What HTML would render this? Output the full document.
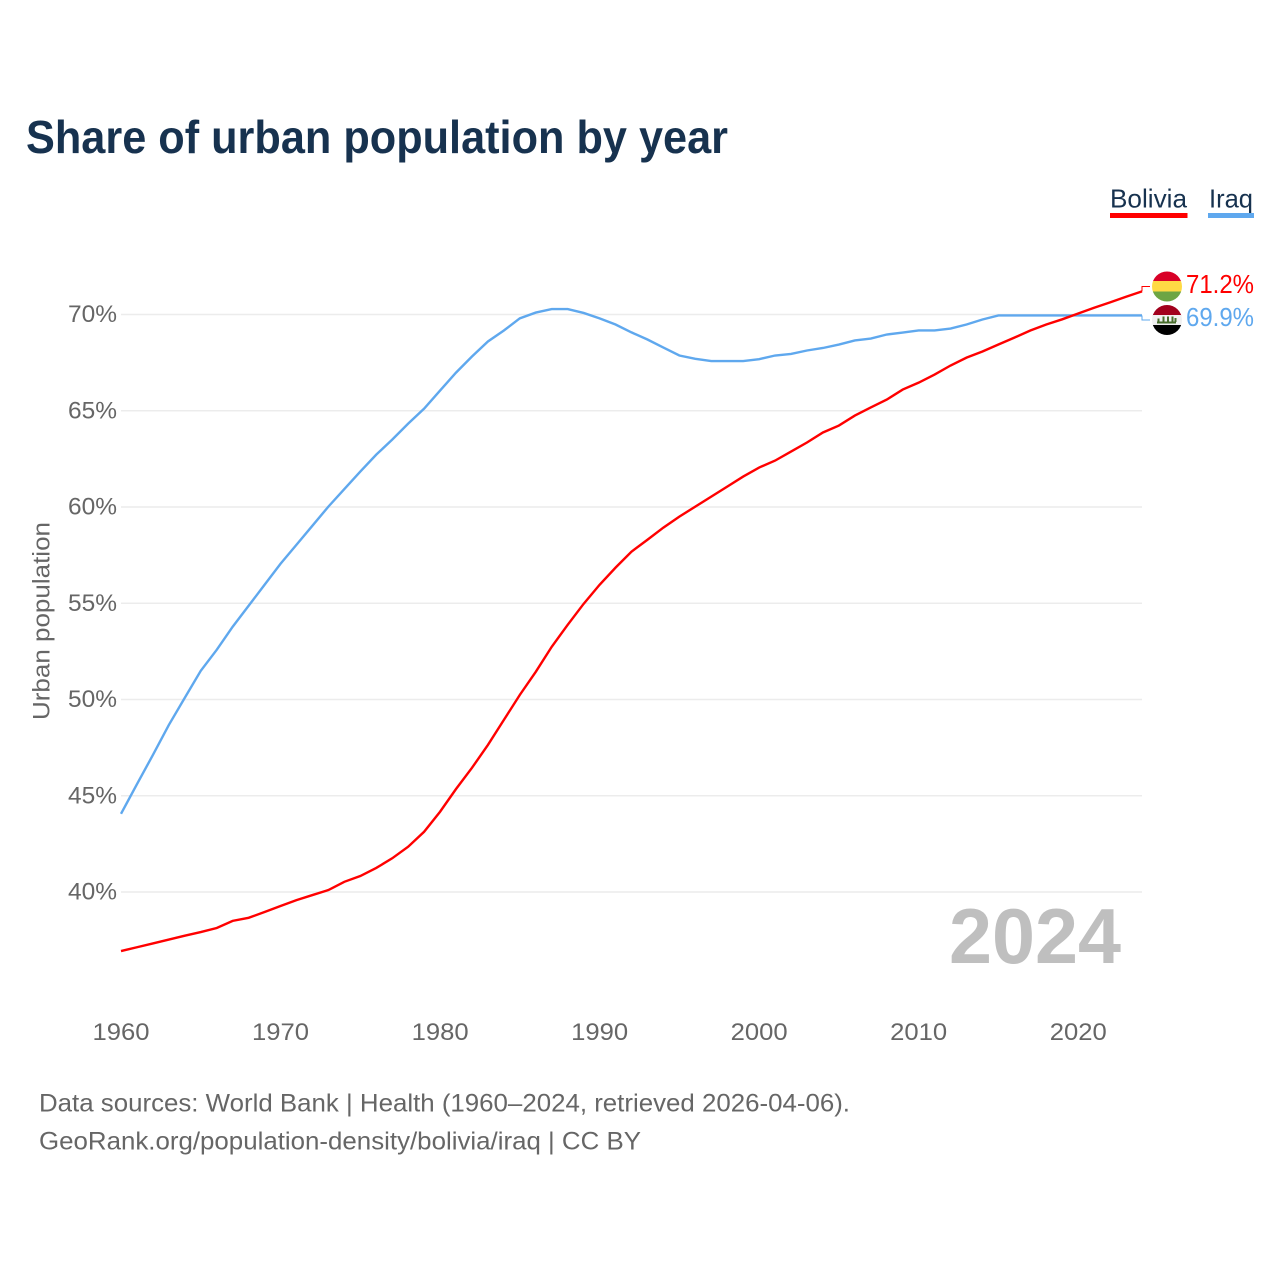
<!DOCTYPE html>
<html lang="en">
<head>
<meta charset="utf-8">
<title>Share of urban population by year</title>
<style>
html,body{margin:0;padding:0;background:#fff;width:1280px;height:1280px;overflow:hidden}
svg{display:block}
text{font-family:"Liberation Sans",sans-serif}
</style>
</head>
<body>
<svg id="chart" width="1280" height="1280" viewBox="0 0 1280 1280" xmlns="http://www.w3.org/2000/svg">
  <defs>
    <clipPath id="clip-bo"><circle cx="1167" cy="286.5" r="15"/></clipPath>
    <clipPath id="clip-iq"><circle cx="1167" cy="320" r="15"/></clipPath>
  </defs>
  <rect width="1280" height="1280" fill="#fff"/>
  <text x="26" y="153" font-size="46" font-weight="700" fill="#17324f" textLength="702" lengthAdjust="spacingAndGlyphs">Share of urban population by year</text>

  <g>
    <text x="1110" y="207.500" font-size="26" fill="#17324f" textLength="77" lengthAdjust="spacingAndGlyphs">Bolivia</text>
    <rect x="1110" y="213" width="77.500" height="5" fill="#ff0000"/>
    <text x="1209" y="207.500" font-size="26" fill="#17324f" textLength="44" lengthAdjust="spacingAndGlyphs">Iraq</text>
    <rect x="1208" y="213" width="46" height="5" fill="#5fa8ee"/>
  </g>

  <g id="grid"></g>
  <g id="yticks"></g>
  <g id="xticks"></g>
  <text transform="translate(49.500,720) rotate(-90)" font-size="24" fill="#666" textLength="198" lengthAdjust="spacingAndGlyphs">Urban population</text>
  <text x="949" y="963" font-size="78" font-weight="700" fill="#bfbfbf" textLength="172" lengthAdjust="spacingAndGlyphs">2024</text>
  <g id="series"></g>

  <g clip-path="url(#clip-bo)">
    <rect x="1152" y="271" width="30" height="10.500" fill="#d80027"/>
    <rect x="1152" y="281" width="30" height="11" fill="#ffda44"/>
    <rect x="1152" y="291.500" width="30" height="11" fill="#6da544"/>
  </g>
  <g clip-path="url(#clip-iq)">
    <rect x="1152" y="305" width="30" height="10.500" fill="#a2001d"/>
    <rect x="1152" y="315" width="30" height="10.500" fill="#f0f0f0"/>
    <rect x="1152" y="325" width="30" height="11" fill="#000"/>
    <path d="M1157 322.500h19M1158.500 318.500v4M1163.500 316.500v6M1168 316.500v6M1172.500 316.500v6M1175.500 318v4" stroke="#496e2d" stroke-width="2" fill="none"/>
  </g>
  <text x="1186" y="293" font-size="26" fill="#ff0000" textLength="68" lengthAdjust="spacingAndGlyphs">71.2%</text>
  <text x="1186" y="326" font-size="26" fill="#5fa8ee" textLength="68" lengthAdjust="spacingAndGlyphs">69.9%</text>

  <text x="39" y="1111.500" font-size="25" fill="#666" textLength="811" lengthAdjust="spacingAndGlyphs">Data sources: World Bank | Health (1960–2024, retrieved 2026-04-06).</text>
  <text x="39" y="1149.500" font-size="25" fill="#666" textLength="602" lengthAdjust="spacingAndGlyphs">GeoRank.org/population-density/bolivia/iraq | CC BY</text>
</svg>
<script>
const startYear = 1960;
const boliviaValues = [36.93,37.13,37.33,37.53,37.73,37.92,38.13,38.5,38.66,38.96,39.27,39.58,39.84,40.1,40.53,40.83,41.25,41.75,42.35,43.13,44.17,45.35,46.45,47.64,48.94,50.24,51.44,52.74,53.88,54.97,55.96,56.85,57.68,58.3,58.93,59.5,60.02,60.54,61.06,61.58,62.05,62.41,62.88,63.35,63.87,64.23,64.75,65.17,65.58,66.1,66.46,66.88,67.35,67.76,68.08,68.44,68.8,69.17,69.48,69.75,70.05,70.35,70.63,70.92,71.2];
const iraqValues = [44.06,45.6,47.12,48.68,50.09,51.49,52.58,53.78,54.87,55.96,57.05,58.04,59.03,60.02,60.93,61.84,62.72,63.5,64.33,65.11,66.05,66.98,67.82,68.6,69.17,69.8,70.1,70.28,70.28,70.08,69.8,69.48,69.07,68.7,68.28,67.87,67.7,67.58,67.58,67.58,67.68,67.87,67.95,68.13,68.26,68.44,68.65,68.75,68.96,69.06,69.17,69.17,69.27,69.48,69.74,69.95,69.95,69.95,69.95,69.95,69.95,69.95,69.95,69.95,69.95];
const yTickValues = [40,45,50,55,60,65,70];
const yTickLabels = ["40%","45%","50%","55%","60%","65%","70%"];
const xTickValues = [1960,1970,1980,1990,2000,2010,2020];
const xTickLabels = ["1960","1970","1980","1990","2000","2010","2020"];

const NS = "http://www.w3.org/2000/svg";
const plotLeft = 121, plotRight = 1142, yearSpan = 64;
function xScale(year){ return plotLeft + (year - startYear) * (plotRight - plotLeft) / yearSpan; }
function yScale(v){ return 892 - (v - 40) * 19.25; }

const grid = document.getElementById("grid");
const yticks = document.getElementById("yticks");
const xticks = document.getElementById("xticks");
const series = document.getElementById("series");

yTickValues.forEach(function(v, i){
  const line = document.createElementNS(NS, "line");
  
  
  line.setAttribute("x1", plotLeft);
  line.setAttribute("x2", plotRight);
  line.setAttribute("y1", yScale(v));
  line.setAttribute("y2", yScale(v));
  line.setAttribute("stroke", "#ececec");
  line.setAttribute("stroke-width", "1.5");
  grid.appendChild(line);

  const t = document.createElementNS(NS, "text");
  
  
  t.setAttribute("x", 68);
  t.setAttribute("y", yScale(v) + 7.5);
  t.setAttribute("font-size", "24");
  t.setAttribute("fill", "#666");
  t.setAttribute("textLength", "49");
  t.setAttribute("lengthAdjust", "spacingAndGlyphs");
  t.textContent = yTickLabels[i];
  yticks.appendChild(t);
});

xTickValues.forEach(function(year, i){
  const t = document.createElementNS(NS, "text");
  
  
  t.setAttribute("x", xScale(year) - 28.5);
  t.setAttribute("y", 1040);
  t.setAttribute("font-size", "24");
  t.setAttribute("fill", "#666");
  t.setAttribute("textLength", "57");
  t.setAttribute("lengthAdjust", "spacingAndGlyphs");
  t.textContent = xTickLabels[i];
  xticks.appendChild(t);
});

function linePoints(values){
  return values.map(function(v, i){
    return xScale(startYear + i).toFixed(2) + "," + yScale(v).toFixed(2);
  }).join(" ");
}
function lastPoint(values){
  return { x: xScale(startYear + values.length - 1), y: yScale(values[values.length - 1]) };
}

const iraqLine = document.createElementNS(NS, "polyline");


iraqLine.setAttribute("points", linePoints(iraqValues));
iraqLine.setAttribute("fill", "none");
iraqLine.setAttribute("stroke", "#5fa8ee");
iraqLine.setAttribute("stroke-width", "2.4");
series.appendChild(iraqLine);

const boliviaLine = document.createElementNS(NS, "polyline");


boliviaLine.setAttribute("points", linePoints(boliviaValues));
boliviaLine.setAttribute("fill", "none");
boliviaLine.setAttribute("stroke", "#ff0000");
boliviaLine.setAttribute("stroke-width", "2.4");
series.appendChild(boliviaLine);

const iraqEnd = lastPoint(iraqValues);
const iraqLeader = document.createElementNS(NS, "polyline");


iraqLeader.setAttribute("points", iraqEnd.x + "," + iraqEnd.y + " " + iraqEnd.x + ",320 1150,320");
iraqLeader.setAttribute("fill", "none");
iraqLeader.setAttribute("stroke", "#5fa8ee");
iraqLeader.setAttribute("stroke-width", "1");
series.appendChild(iraqLeader);

const boliviaEnd = lastPoint(boliviaValues);
const boliviaLeader = document.createElementNS(NS, "polyline");


boliviaLeader.setAttribute("points", boliviaEnd.x + "," + boliviaEnd.y + " " + boliviaEnd.x + ",286.5 1150,286.5");
boliviaLeader.setAttribute("fill", "none");
boliviaLeader.setAttribute("stroke", "#ff0000");
boliviaLeader.setAttribute("stroke-width", "1");
series.appendChild(boliviaLeader);
</script>
</body>
</html>
